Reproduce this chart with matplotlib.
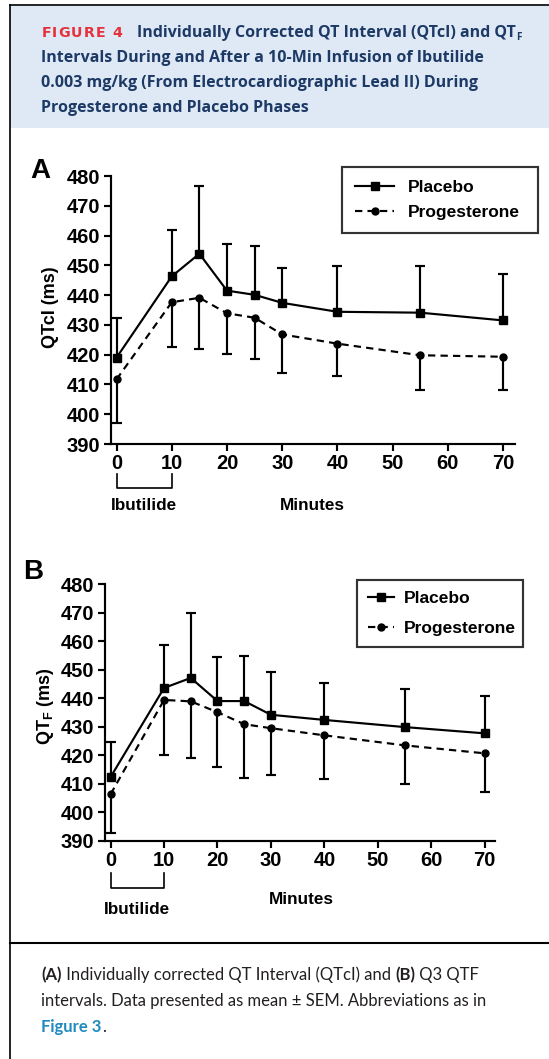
import matplotlib
matplotlib.use("Agg")
import matplotlib.pyplot as plt
from matplotlib.transforms import IdentityTransform, blended_transform_factory
from matplotlib.lines import Line2D
from matplotlib.patches import Rectangle

plt.rcParams['font.family'] = ['Liberation Sans', 'DejaVu Sans']
plt.rcParams['mathtext.fontset'] = 'custom'
plt.rcParams['mathtext.rm'] = 'Liberation Sans:bold'
plt.rcParams['mathtext.it'] = 'Liberation Sans:bold'
plt.rcParams['mathtext.bf'] = 'Liberation Sans:bold'

# ---------------- data ----------------
minutes = [0, 10, 15, 20, 25, 30, 40, 55, 70]

qtci_placebo = [419.0, 446.3, 453.9, 441.5, 440.1, 437.4, 434.4, 434.1, 431.5]
qtci_placebo_upper = [432.4, 461.9, 476.8, 457.3, 456.4, 449.1, 449.7, 449.9, 447.0]
qtci_prog = [411.7, 437.6, 439.1, 433.9, 432.4, 426.8, 423.7, 419.8, 419.3]
qtci_prog_lower = [396.9, 422.6, 421.8, 420.3, 418.7, 414.0, 412.9, 408.1, 408.1]

qtf_placebo = [412.4, 443.6, 447.1, 439.0, 439.0, 434.2, 432.4, 429.9, 427.7]
qtf_placebo_upper = [424.8, 458.7, 470.0, 454.6, 454.9, 449.1, 445.5, 443.3, 440.8]
qtf_prog = [406.4, 439.4, 438.9, 435.1, 430.9, 429.5, 427.0, 423.5, 420.7]
qtf_prog_lower = [392.9, 420.2, 419.1, 415.8, 412.1, 413.1, 411.7, 410.1, 407.2]

x_ticks = [0, 10, 20, 30, 40, 50, 60, 70]
y_ticks = [390, 400, 410, 420, 430, 440, 450, 460, 470, 480]
series_names = ["Placebo", "Progesterone"]

title_red = "FIGURE 4"
title_lines = [
    "Individually Corrected QT Interval (QTcI) and QT",
    "Intervals During and After a 10-Min Infusion of Ibutilide",
    "0.003 mg/kg (From Electrocardiographic Lead II) During",
    "Progesterone and Placebo Phases",
]
caption_lines = [
    "Individually corrected QT Interval (QTcI) and ",
    "intervals. Data presented as mean \u00b1 SEM. Abbreviations as in",
]

W, H = 549, 1059
fig = plt.figure(figsize=(W / 100, H / 100), dpi=100)
fig.patch.set_facecolor('white')

NAVY = '#1d3a66'
RED = '#e4323c'
BLUE = '#1f8ac0'
TXT = '#231f20'

def px_rect(l, t, r, b):
    return [l / W, 1 - b / H, (r - l) / W, (b - t) / H]

# header background and frame lines
fig.add_artist(Rectangle((10 / W, 1 - 128 / H), (W - 10) / W, (128 - 6) / H,
                         transform=fig.transFigure, facecolor='#dfe9f5', edgecolor='none'))
fig.add_artist(Line2D([9.5 / W, 1], [1 - 5 / H, 1 - 5 / H], transform=fig.transFigure,
                      color='black', lw=1.2))
fig.add_artist(Line2D([9.5 / W, 9.5 / W], [0, 1 - 5 / H], transform=fig.transFigure,
                      color='black', lw=1.2))
fig.add_artist(Line2D([9.5 / W, 1], [1 - 943 / H, 1 - 943 / H], transform=fig.transFigure,
                      color='black', lw=1.5))

renderer = fig.canvas.get_renderer()

def ptext(x, y, s, **kw):
    return fig.text(x, H - y, s, transform=IdentityTransform(), **kw)

def width_of(t):
    return t.get_window_extent(renderer).width

def fit_size(s, target, base, **kw):
    t = ptext(0, -100, s, fontsize=base, **kw)
    w = width_of(t)
    t.remove()
    return base * target / w

def seq_text(x, y, pieces):
    for txt, kw in pieces:
        t = ptext(x, y, txt, va='baseline', ha='left', **kw)
        x += width_of(t)
    return x

# ---- header ----
HF = ['Open Sans', 'DejaVu Sans']
hs = fit_size(title_lines[1], 443, 11, family=HF, fontweight='bold')
hfont = dict(family=HF, fontweight='bold', fontsize=hs, color=NAVY)
rs = fit_size(title_red, 74, 10, family=['DejaVu Sans'], fontweight='bold')
x = 41.3
for ch in title_red:
    t = ptext(x, 37, ch, va='baseline', ha='left', family=['DejaVu Sans'],
              fontweight='bold', fontsize=rs, color=RED)
    x += width_of(t) + 1.0
x = seq_text(136.6, 37, [(title_lines[0], hfont)])
ptext(x + 0.5, 40, "F", va='baseline', ha='left', family=HF, fontweight='bold',
      fontsize=hs * 0.62, color=NAVY)
for i, line in enumerate(title_lines[1:]):
    ptext(41.3, 62 + 25 * i, line, va='baseline', ha='left', **hfont)

# ---- caption ----
CF = ['Lato', 'DejaVu Sans']
cs = fit_size(caption_lines[1], 445, 11, family=CF)
cfont = dict(family=CF, fontsize=cs, color=TXT)
cbold = dict(family=CF, fontsize=cs, color=TXT, fontweight='bold')
seq_text(41.3, 980, [("(A)", cbold), (" " + caption_lines[0], cfont),
                     ("(B)", cbold), (" Q3 QTF", cfont)])
seq_text(41.3, 1006, [(caption_lines[1], cfont)])
seq_text(41.3, 1032, [("Figure 3", dict(cbold, color=BLUE)), (".", cfont)])

LW = 1.55
TICKFS = 14.5

def panel(rect, xlim, placebo, p_up, prog, p_lo, ylabel, ylabel_xy, letter, letter_xy,
          legend_rect, leg_kw, bracket_y, ibut_y, minutes_xy):
    ax = fig.add_axes(px_rect(*rect))
    ax.set_xlim(*xlim)
    ax.set_ylim(390, 480)
    for s in ('top', 'right'):
        ax.spines[s].set_visible(False)
    for s in ('left', 'bottom'):
        ax.spines[s].set_linewidth(LW)
    ax.set_xticks(x_ticks)
    ax.set_yticks(y_ticks)
    ax.tick_params(width=LW, length=5, labelsize=TICKFS, pad=2.5)
    for lab in ax.get_xticklabels() + ax.get_yticklabels():
        lab.set_fontweight('bold')
    # one-sided SEM bars
    ax.vlines(minutes, placebo, p_up, color='black', lw=LW, zorder=2)
    ax.plot(minutes, p_up, ls='none', marker='_', ms=7, mew=LW, color='black', zorder=2)
    ax.vlines(minutes, p_lo, prog, color='black', lw=LW, zorder=2)
    ax.plot(minutes, p_lo, ls='none', marker='_', ms=7, mew=LW, color='black', zorder=2)
    ax.plot(minutes, placebo, '-', marker='s', ms=5.5, color='black', lw=LW, zorder=3,
            label=series_names[0], clip_on=False)
    ax.plot(minutes, prog, marker='o', ms=5, color='black', lw=LW, zorder=3,
            dashes=(3.4, 2.4), label=series_names[1], clip_on=False)
    ptext(ylabel_xy[0], ylabel_xy[1], ylabel, rotation=90, ha='center', va='center',
          fontsize=13, fontweight='bold')
    # legend
    l, t, r, b = legend_rect
    handles, labels = ax.get_legend_handles_labels()
    leg = fig.legend(handles, labels, loc='upper left', frameon=True, fancybox=False,
                     edgecolor='black', prop=dict(weight='bold', size=12.5),
                     bbox_to_anchor=(l / W, 1 - t / H, (r - l) / W, 0.001), mode='expand',
                     borderaxespad=0, **leg_kw)
    leg.get_frame().set_linewidth(LW)
    # infusion bracket
    tr = blended_transform_factory(ax.transData, IdentityTransform())
    b0, b1 = H - bracket_y[0], H - bracket_y[1]
    ax.add_line(Line2D([0, 0, 10, 10], [b0, b1, b1, b0], transform=tr, color='black',
                       lw=1.2, clip_on=False))
    ax.text(5, H - ibut_y, "Ibutilide", transform=tr, ha='center', va='center',
            fontsize=12.3, fontweight='bold')
    ptext(minutes_xy[0], minutes_xy[1], "Minutes", ha='center', va='center',
          fontsize=12.3, fontweight='bold')
    ptext(letter_xy[0], letter_xy[1], letter, ha='center', va='center',
          fontsize=20, fontweight='bold')
    return ax

panel((111, 176, 514.7, 444), (-1.0, 72.1), qtci_placebo, qtci_placebo_upper, qtci_prog,
      qtci_prog_lower, "QTcI (ms)", (50.8, 307), "A", (40.3, 171), (342, 168, 538, 230),
      dict(handlelength=2.25, handletextpad=0.8, borderpad=0.75, labelspacing=0.58),
      (474, 488), 505, (312.7, 505))
panel((105, 584, 495.4, 841), (-1.05, 72.0), qtf_placebo, qtf_placebo_upper, qtf_prog,
      qtf_prog_lower, r"QT$_\mathrm{F}$ (ms)", (45.5, 706), "B", (33.3, 572),
      (357, 581, 523, 644),
      dict(handlelength=1.5, handletextpad=0.55, borderpad=0.63, labelspacing=0.86),
      (873, 888), 909, (301, 899))

fig.savefig("out.png", dpi=100)
